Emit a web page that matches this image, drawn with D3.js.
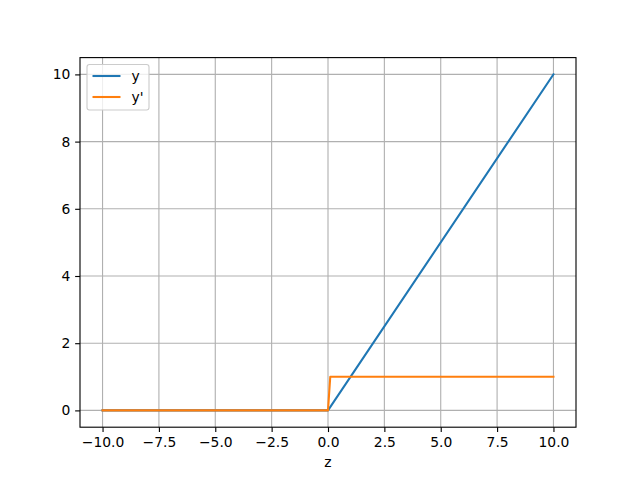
<!DOCTYPE html>
<html><head><meta charset="utf-8">
<script src="https://cdn.jsdelivr.net/npm/d3@7"></script>
<style>body{margin:0;background:#fff}svg{display:block}text{font-family:"DejaVu Sans",sans-serif}</style>
</head><body>
<svg id="c" width="640" height="480"></svg>
<script>
const reluX = [-10, 0, 10];
const reluY = [0, 0, 10];
const derivX = [-10, 0, 0.1, 10];
const derivY = [0, 0, 1, 1];
const xTicks = [-10, -7.5, -5, -2.5, 0, 2.5, 5, 7.5, 10];
const yTicks = [0, 2, 4, 6, 8, 10];
const seriesNames = ["y", "y'"];
const colors = ["#1f77b4", "#ff7f0e"];

const PT = 100 / 72;
const svg = d3.select("#c");
const L = 80, R = 576, T = 57.6, B = 427.2;
const x = d3.scaleLinear().domain([-11, 11]).range([L, R]);
const y = d3.scaleLinear().domain([-0.5, 10.5]).range([B, T]);

// grid
const g = svg.append("g");
g.selectAll(".gx").data(xTicks).enter().append("line")
  .attr("x1", d => x(d)).attr("x2", d => x(d)).attr("y1", T).attr("y2", B)
  .attr("stroke", "#b0b0b0").attr("stroke-width", 0.8 * PT);
g.selectAll(".gy").data(yTicks).enter().append("line")
  .attr("y1", d => y(d)).attr("y2", d => y(d)).attr("x1", L).attr("x2", R)
  .attr("stroke", "#b0b0b0").attr("stroke-width", 0.8 * PT);

const fmtX = d => d.toFixed(1).replace("-", "\u2212");
const xAxis = d3.axisBottom(x).tickValues(xTicks).tickFormat(fmtX).tickSize(3.5 * PT).tickPadding(3.5 * PT);
const yAxis = d3.axisLeft(y).tickValues(yTicks).tickFormat(d3.format("d")).tickSize(3.5 * PT).tickPadding(3.5 * PT);
const ax = svg.append("g").attr("transform", `translate(0,${B})`).call(xAxis);
const ay = svg.append("g").attr("transform", `translate(${L},0)`).call(yAxis);
[ax, ay].forEach(a => {
  a.select(".domain").remove();
  a.selectAll("line").attr("stroke", "#000").attr("stroke-width", 0.8 * PT);
  a.selectAll("text").attr("font-size", 10 * PT).attr("fill", "#000").attr("font-family", "DejaVu Sans");
});

const line = d3.line().x(d => x(d[0])).y(d => y(d[1]));
const data = [d3.zip(reluX, reluY), d3.zip(derivX, derivY)];
svg.selectAll(".s").data(data).enter().append("path")
  .attr("d", line).attr("fill", "none")
  .attr("stroke", (d, i) => colors[i]).attr("stroke-width", 1.5 * PT)
  .attr("stroke-linejoin", "round").attr("stroke-linecap", "square");

// frame
svg.append("rect").attr("x", L).attr("y", T).attr("width", R - L).attr("height", B - T)
  .attr("fill", "none").attr("stroke", "#000").attr("stroke-width", 0.8 * PT);

// x label
svg.append("text").attr("x", (L + R) / 2).attr("y", 467).attr("text-anchor", "middle")
  .attr("font-size", 10 * PT).text("z");

// legend
const lg = svg.append("g");
lg.append("rect").attr("x", 87).attr("y", 64.5).attr("width", 62).attr("height", 45.5)
  .attr("rx", 2.5).attr("fill", "#fff").attr("fill-opacity", 0.8)
  .attr("stroke", "#cccccc").attr("stroke-width", 0.8 * PT);
seriesNames.forEach((n, i) => {
  const yy = 76 + i * 21;
  lg.append("line").attr("x1", 92.5).attr("x2", 120.5).attr("y1", yy).attr("y2", yy)
    .attr("stroke", colors[i]).attr("stroke-width", 1.5 * PT);
  lg.append("text").attr("x", 131.5).attr("y", yy + 5).attr("font-size", 10 * PT).text(n);
});
</script>
</body></html>
